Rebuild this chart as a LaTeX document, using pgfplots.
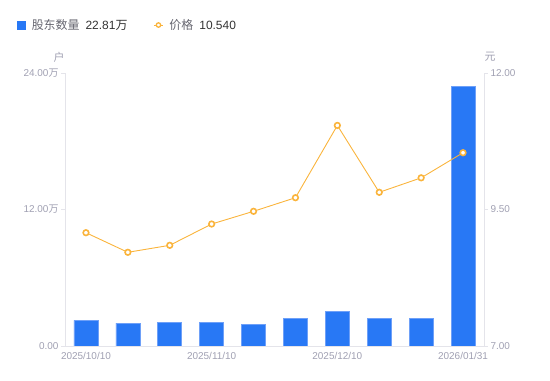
\documentclass[border=0pt]{standalone}
\usepackage{pgfplots}
\pgfplotsset{compat=1.18}
\usepackage{fontspec}
\setmainfont{Liberation Sans}
\newfontfamily\cjk{Noto Sans CJK SC}
\definecolor{barblue}{RGB}{40,120,245}
\definecolor{baredge}{RGB}{110,160,248}
\definecolor{lineorange}{RGB}{250,180,60}
\definecolor{tickgray}{RGB}{160,160,178}
\definecolor{axisgray}{RGB}{228,228,234}
\definecolor{legname}{RGB}{102,102,112}
\definecolor{legval}{RGB}{51,51,51}
\pgfplotsset{
  barleg/.style={legend image code/.code={\fill[barblue] (0bp,-4bp) rectangle (8bp,4bp);}},
  lineleg/.style={legend image code/.code={\draw[lineorange, line width=1bp] (0bp,0bp) -- (9bp,0bp); \draw[lineorange, mark=*, mark size=2.2bp, mark options={fill=white, draw=lineorange, line width=1.3bp}] plot coordinates {(4.5bp,0bp)};}},
}
\begin{document}
\begin{tikzpicture}
\useasboundingbox (0bp,0bp) rectangle (550bp,381bp);
\begin{axis}[
  at={(65bp,35bp)}, anchor=south west,
  width=419bp, height=273bp, scale only axis,
  xmin=-0.5, xmax=9.5, ymin=0, ymax=24,
  axis x line*=bottom, axis y line*=left,
  axis line style={draw=axisgray, line width=0.8bp},
  xtick={0,3,6,9},
  xticklabels={2025/10/10,2025/11/10,2025/12/10,2026/01/31},
  ytick={0,12,24},
  yticklabels={0.00,12.00{\cjk 万},24.00{\cjk 万}},
  x tick style={draw=none},
  y tick style={draw=axisgray, line width=0.8bp},
  tick align=outside, major tick length=4bp,
  tick label style={font=\fontsize{10}{12}\selectfont, text=tickgray},
  /pgf/number format/assume math mode=true,
  xticklabel style={yshift=1bp},
  yticklabel style={xshift=1bp},
  legend columns=2,
  legend style={at={(-0.1146,1.205)}, anchor=north west, draw=none, fill=none,
    inner sep=0pt, font=\fontsize{12}{14}\selectfont,
    /tikz/every even column/.append style={column sep=24bp}},
  legend cell align=left,
]
\addplot[ybar, bar width=24bp, fill=barblue, draw=baredge, line width=0.6bp, barleg]
  table[row sep=\\] {x y\\ 0 2.26\\ 1 2.02\\ 2 2.05\\ 3 2.08\\ 4 1.93\\ 5 2.40\\ 6 3.02\\ 7 2.40\\ 8 2.43\\ 9 22.81\\};
\addlegendentry{\hspace{4bp}{\color{legname}\cjk 股东数量}\hspace{6bp}{\color{legval}22.81{\cjk 万}}}
\addlegendimage{lineleg}
\addlegendentry{\hspace{4bp}{\color{legname}\cjk 价格}\hspace{6bp}{\color{legval}10.540}}
\end{axis}
\begin{axis}[
  at={(65bp,35bp)}, anchor=south west,
  width=419bp, height=273bp, scale only axis,
  xmin=-0.5, xmax=9.5, ymin=7, ymax=12,
  axis x line=none, axis y line*=right,
  axis line style={draw=axisgray, line width=0.8bp},
  ytick={7,9.5,12},
  yticklabels={7.00,9.50,12.00},
  y tick style={draw=axisgray, line width=0.8bp},
  tick align=outside, major tick length=4bp,
  tick label style={font=\fontsize{10}{12}\selectfont, text=tickgray},
  /pgf/number format/assume math mode=true,
  yticklabel style={xshift=-1bp},
]
\addplot[draw=lineorange, line width=0.9bp, mark=*, mark size=2.8bp,
  mark options={fill=white, draw=lineorange, line width=1.6bp}]
  table[row sep=\\] {x y\\ 0 9.075\\ 1 8.716\\ 2 8.844\\ 3 9.234\\ 4 9.467\\ 5 9.716\\ 6 11.04\\ 7 9.815\\ 8 10.08\\ 9 10.54\\};
\end{axis}
\node[text=tickgray, font=\fontsize{11}{13}\selectfont\cjk] at (59bp,324bp) {户};
\node[text=tickgray, font=\fontsize{11}{13}\selectfont\cjk] at (490bp,324bp) {元};
\end{tikzpicture}
\end{document}
